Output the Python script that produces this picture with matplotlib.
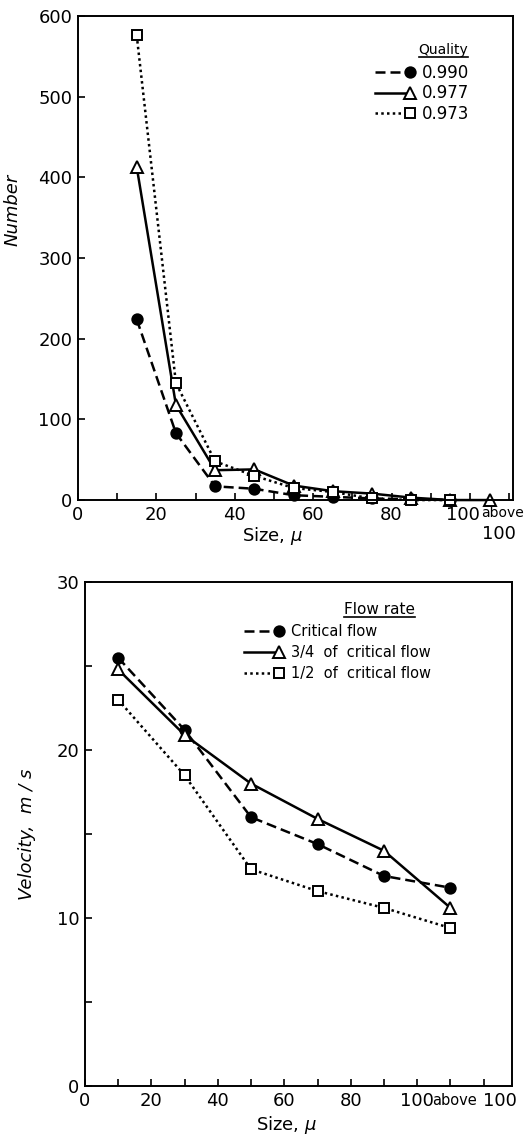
import numpy as np
import matplotlib
matplotlib.use("Agg")
import matplotlib.pyplot as plt
from matplotlib.legend_handler import HandlerLine2D
from matplotlib.lines import Line2D
from matplotlib.transforms import ScaledTranslation

plt.rcParams["font.family"] = ["DejaVu Sans"]
plt.rcParams["mathtext.fontset"] = "custom"
plt.rcParams["mathtext.rm"] = "DejaVu Sans"
plt.rcParams["mathtext.it"] = "DejaVu Sans:italic"

# ---- particle counts by size class, per steam quality ----
size_top = [15, 25, 35, 45, 55, 65, 75, 85, 95, 105]
quality_labels = ["0.990", "0.977", "0.973"]
count_990 = [224, 83, 17, 14, 6, 4, 2, 1, 0]
count_977 = [413, 118, 37, 38, 18, 11, 8, 3, 0, 0]
count_973 = [576, 145, 48, 30, 15, 10, 2, 0, 0]

# ---- velocity by size class, per flow rate ----
size_bot = [10, 30, 50, 70, 90, 110]
flow_labels = ["Critical flow", "3/4  of  critical flow", "1/2  of  critical flow"]
vel_crit = [25.5, 21.2, 16.0, 14.4, 12.5, 11.8]
vel_34 = [24.8, 20.9, 18.0, 15.9, 14.0, 10.6]
vel_12 = [23.0, 18.5, 12.9, 11.6, 10.6, 9.4]


class EndMarkerHandler(HandlerLine2D):
    """Legend handle: a line with its marker sitting at the right end."""
    def create_artists(self, legend, orig_handle, xdescent, ydescent,
                       width, height, fontsize, trans):
        artists = super().create_artists(legend, orig_handle, xdescent,
                                         ydescent, width, height, fontsize,
                                         trans)
        line = artists[0]
        y = line.get_ydata()[0]
        line.set_data([-xdescent, -xdescent + width], [y, y])
        line.set_markevery([1])
        return artists


styles = [
    dict(ls=(0, (4, 2)), marker="o", mfc="black", ms=7.5),
    dict(ls="-", marker="^", mfc="white", ms=9),
    dict(ls=(0, (1, 1.3)), marker="s", mfc="white", ms=6.5),
]

fig = plt.figure(figsize=(5.30, 11.37), dpi=100)

ax1 = fig.add_axes([0.147, 0.5602, 0.821, 0.4257])
ax2 = fig.add_axes([0.160, 0.0449, 0.806, 0.4432])


def style_axes(ax):
    for s in ax.spines.values():
        s.set_linewidth(1.4)
    ax.tick_params(which="both", direction="in", length=5, width=1.2,
                   labelsize=13, pad=4)


def underlined_title(ax, x, y, text, size):
    t = ax.text(x, y, text, transform=ax.transAxes, ha="center",
                va="bottom", fontsize=size)
    fig.canvas.draw()
    bb = t.get_window_extent().transformed(ax.transAxes.inverted())
    ax.add_line(Line2D([bb.x0, bb.x1], [bb.y0, bb.y0],
                       transform=ax.transAxes, color="black", lw=1.2))


# Top panel
series_top = [count_990, count_977, count_973]
handles = []
for vals, lab, st in zip(series_top, quality_labels, styles):
    h, = ax1.plot(size_top[:len(vals)], vals, color="black", lw=1.8,
                  mec="black", mew=1.4, clip_on=False, label=lab, **st)
    handles.append(h)
ax1.set_xlim(0, 111)
ax1.set_ylim(0, 600)
ax1.set_xticks(np.arange(0, 101, 20))
ax1.set_xticks(np.arange(0, 111, 10), minor=True)
ax1.set_yticks(np.arange(0, 601, 100))
style_axes(ax1)
fig.canvas.draw()
for lbl in ax1.get_xticklabels():
    if lbl.get_text() == "100":
        lbl.set_transform(lbl.get_transform()
                          + ScaledTranslation(-7 / 100, 0, fig.dpi_scale_trans))
ax1.text(102.9, -0.013, "above", transform=ax1.get_xaxis_transform(),
         ha="left", va="top", fontsize=10)
ax1.text(107.5, -0.052, "100", transform=ax1.get_xaxis_transform(),
         ha="center", va="top", fontsize=13)
ax1.set_xlabel(r"Size, $\mathit{\mu}$", fontsize=13)
ax1.xaxis.set_label_coords(0.448, -0.052)
ax1.set_ylabel("Number", fontsize=13, style="italic")
ax1.yaxis.set_label_coords(-0.13, 0.6)
leg1 = ax1.legend(handles=handles, loc="upper right",
                  bbox_to_anchor=(0.915, 0.915), frameon=False, fontsize=12,
                  handlelength=2.1, handletextpad=0.7, labelspacing=0.15,
                  borderaxespad=0, handler_map={Line2D: EndMarkerHandler()})

# Bottom panel
series_bot = [vel_crit, vel_34, vel_12]
handles = []
for vals, lab, st in zip(series_bot, flow_labels, styles):
    h, = ax2.plot(size_bot, vals, color="black", lw=1.8,
                  mec="black", mew=1.4, clip_on=False, label=lab, **st)
    handles.append(h)
ax2.set_xlim(0, 128.5)
ax2.set_ylim(0, 30)
ax2.set_xticks(np.arange(0, 101, 20))
ax2.set_xticks(np.arange(0, 121, 10), minor=True)
ax2.set_yticks([0, 10, 20, 30])
ax2.set_yticks(np.arange(0, 31, 5), minor=True)
style_axes(ax2)
ax2.text(111.2, -0.014, "above", transform=ax2.get_xaxis_transform(),
         ha="center", va="top", fontsize=10.5)
ax2.text(124.8, -0.012, "100", transform=ax2.get_xaxis_transform(),
         ha="center", va="top", fontsize=13)
ax2.set_xlabel(r"Size, $\mathit{\mu}$", fontsize=13)
ax2.xaxis.set_label_coords(0.473, -0.055)
ax2.set_ylabel("Velocity,  m / s", fontsize=13, style="italic")
ax2.yaxis.set_label_coords(-0.115, 0.5)
leg2 = ax2.legend(handles=handles, loc="upper left",
                  bbox_to_anchor=(0.36, 0.928), frameon=False, fontsize=10.5,
                  handlelength=2.4, handletextpad=0.8, labelspacing=0.4,
                  borderaxespad=0, handler_map={Line2D: EndMarkerHandler()})

underlined_title(ax1, 0.84, 0.915, "Quality", 10)
underlined_title(ax2, 0.69, 0.93, "Flow rate", 11)

fig.savefig("out.png", dpi=100)
